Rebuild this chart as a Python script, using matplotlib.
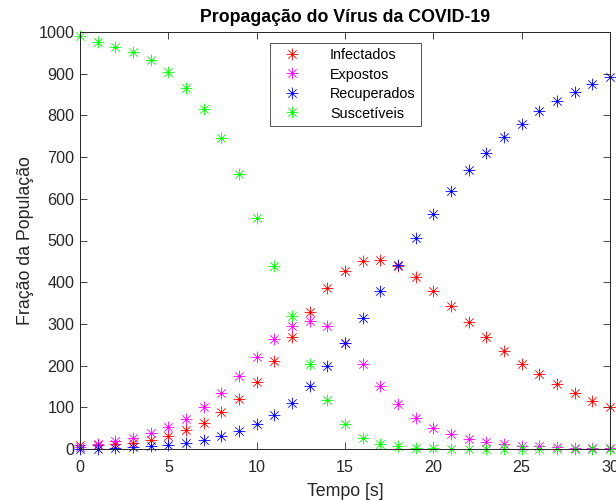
import matplotlib
matplotlib.use("Agg")
import matplotlib.pyplot as plt
from matplotlib.path import Path

# Time in days (labelled as seconds on the axis)
tempo = list(range(0, 31))

infectados = [10, 10, 12, 15, 22, 32, 45, 63, 88, 120, 160, 210, 268, 328, 387,
              428, 452, 454, 440, 413, 379, 342, 305, 269, 236, 205, 180, 155,
              134, 115, 100]
expostos = [5, 12, 20, 27, 38, 53, 73, 101, 134, 175, 220, 263, 296, 308, 295,
            255, 204, 151, 108, 74, 50, 36, 25, 17, 12, 8, 6, 4, 3, 2, 2]
recuperados = [0, 1, 2, 4, 7, 10, 14, 21, 30, 44, 60, 82, 111, 151, 198, 255,
               315, 380, 442, 506, 564, 618, 668, 711, 748, 780, 810, 835, 857,
               875, 892]
suscetiveis = [990, 977, 965, 952, 932, 905, 865, 815, 745, 660, 555, 440, 318,
               205, 118, 60, 27, 12, 6, 3, 2, 1, 1, 1, 1, 1, 1, 1, 1, 1, 1]

series = [
    ("Infectados", infectados, (1, 0, 0)),
    ("Expostos", expostos, (1, 0, 1)),
    ("Recuperados", recuperados, (0, 0, 1)),
    ("Suscetíveis", suscetiveis, (0, 1, 0)),
]

x_ticks = [0, 5, 10, 15, 20, 25, 30]
y_ticks = [0, 100, 200, 300, 400, 500, 600, 700, 800, 900, 1000]

# Eight-armed asterisk (plus overlaid with a cross)
d = 0.7071
asterisk = Path(
    [(-1, 0), (1, 0), (0, -1), (0, 1), (-d, -d), (d, d), (-d, d), (d, -d)],
    [Path.MOVETO, Path.LINETO] * 4,
)

plt.rcParams["font.family"] = ["Liberation Sans", "DejaVu Sans"]
dark = "#262626"

fig = plt.figure(figsize=(6.16, 5.0), dpi=100)
ax = fig.add_axes([80 / 616, 51 / 500, 530 / 616, 417 / 500])

for nome, valores, cor in series:
    ax.plot(tempo, valores, linestyle="none", marker=asterisk, markersize=8.5,
            markeredgewidth=0.6, color=cor, label=nome, clip_on=False)

ax.set_xlim(0, 30)
ax.set_ylim(0, 1000)
ax.set_xticks(x_ticks)
ax.set_yticks(y_ticks)
ax.tick_params(direction="in", length=5, width=0.6, colors=dark,
               labelsize=11.6, top=True, right=True)
ax.tick_params(axis="x", pad=8)
ax.tick_params(axis="y", pad=4)
for s in ax.spines.values():
    s.set_color(dark)
    s.set_linewidth(0.7)

ax.set_title("Propagação do Vírus da COVID-19", fontsize=12.8,
             fontweight="bold", color="black", pad=7)
ax.set_xlabel("Tempo [s]", fontsize=12.8, color=dark, labelpad=6)
ax.set_ylabel("Fração da População", fontsize=12.8, color=dark, labelpad=3)

leg = ax.legend(loc="upper left", bbox_to_anchor=(270 / 616, 1 - 43 / 500),
                bbox_transform=fig.transFigure, fontsize=10.4, frameon=True,
                fancybox=False, edgecolor=dark, borderpad=0.35,
                labelspacing=0.38, handletextpad=1.5, handlelength=2.3,
                borderaxespad=0)
leg.get_frame().set_linewidth(0.7)

fig.savefig("out.png", dpi=100)
